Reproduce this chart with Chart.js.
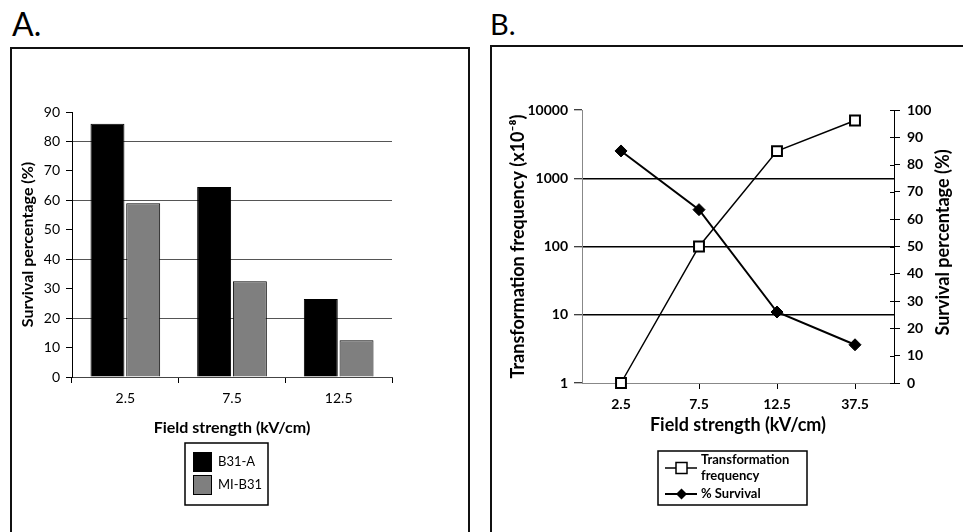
<!DOCTYPE html>
<html><head><meta charset="utf-8">
<script src="https://cdn.jsdelivr.net/npm/chart.js@4"></script>
<style>
html,body{margin:0;padding:0;background:#fff;}
body{width:963px;height:532px;overflow:hidden;position:relative;font-family:Lato,sans-serif;}
.lbl{position:absolute;font-family:Lato,sans-serif;line-height:1;color:#000;}
#frameA{position:absolute;left:10px;top:47px;width:460px;height:520px;border:2px solid #111;box-sizing:border-box;}
#frameB{position:absolute;left:490px;top:45px;width:520px;height:520px;border:2px solid #111;box-sizing:border-box;}
canvas{position:absolute;}
#cA{left:11px;top:48px;}
#cB{left:491px;top:46px;}
</style></head>
<body>
<div class="lbl" style="left:12px;top:8px;font-size:32px;">A.</div>
<div class="lbl" style="left:490px;top:9px;font-size:29px;">B.</div>
<div id="frameA"></div>
<div id="frameB"></div>
<canvas id="cA" width="458" height="484"></canvas>
<canvas id="cB" width="472" height="486"></canvas>
<script>
// ---------- Data: panel A ----------
const categoriesA = ['2.5', '7.5', '12.5'];
const seriesNamesA = ['B31-A', 'MI-B31'];
const b31A = [86, 64.5, 26.5];
const miB31 = [59, 32.5, 12.5];

// ---------- Data: panel B ----------
const categoriesB = ['2.5', '7.5', '12.5', '37.5'];
const seriesNamesB = ['Transformation frequency', '% Survival'];
const transFreq = [1, 100, 2500, 7000];
const survival = [85, 63.5, 26, 14];
const logTicks = [1, 10, 100, 1000, 10000];
const rightTitleB = 'Survival percentage (%)';

const FONT = 'Lato';

const legendPluginA = {
  id: 'legendA',
  afterDraw(chart) {
    const ctx = chart.ctx, ca = chart.chartArea;
    const x0 = ca.left + 113, y0 = ca.bottom + 66, w = 83, h = 62;
    ctx.save();
    ctx.lineWidth = 1.5; ctx.strokeStyle = '#000';
    ctx.strokeRect(x0, y0, w, h);
    ctx.font = '13px ' + FONT; ctx.textBaseline = 'middle'; ctx.fillStyle = '#000';
    chart.data.datasets.forEach((ds, i) => {
      const sy = y0 + 9 + i * 23;
      ctx.fillStyle = ds.backgroundColor;
      ctx.fillRect(x0 + 8, sy, 19, 20);
      ctx.lineWidth = 1; ctx.strokeStyle = '#000';
      ctx.strokeRect(x0 + 8.5, sy + 0.5, 18, 19);
      ctx.fillStyle = '#000';
      ctx.fillText(ds.label, x0 + 33, sy + 10);
    });
    ctx.restore();
  }
};

const legendPluginB = {
  id: 'legendB',
  afterDraw(chart) {
    const ctx = chart.ctx, ca = chart.chartArea;
    const x0 = ca.left + 76, y0 = ca.bottom + 68, w = 149, h = 54;
    ctx.save();
    ctx.lineWidth = 1.5; ctx.strokeStyle = '#000';
    ctx.strokeRect(x0, y0, w, h);
    ctx.font = 'bold 13px ' + FONT; ctx.textBaseline = 'middle';
    const ds0 = chart.data.datasets[0], ds1 = chart.data.datasets[1];
    let ly = y0 + 17;
    ctx.beginPath(); ctx.moveTo(x0 + 7, ly); ctx.lineTo(x0 + 39, ly); ctx.lineWidth = 1.5; ctx.stroke();
    ctx.fillStyle = '#fff'; ctx.fillRect(x0 + 18, ly - 5.5, 11, 11);
    ctx.lineWidth = 1.5; ctx.strokeRect(x0 + 18, ly - 5.5, 11, 11);
    ctx.fillStyle = '#000';
    const words = ds0.label.split(' ');
    ctx.fillText(words[0], x0 + 43, y0 + 9);
    ctx.fillText(words.slice(1).join(' '), x0 + 43, y0 + 25);
    ly = y0 + 43;
    ctx.beginPath(); ctx.moveTo(x0 + 7, ly); ctx.lineTo(x0 + 39, ly); ctx.lineWidth = 2; ctx.stroke();
    ctx.beginPath(); ctx.moveTo(x0 + 23.5, ly - 5.5); ctx.lineTo(x0 + 29, ly); ctx.lineTo(x0 + 23.5, ly + 5.5); ctx.lineTo(x0 + 18, ly); ctx.closePath(); ctx.fill();
    ctx.fillText(ds1.label, x0 + 43, ly);

    // right axis: title reading bottom-to-top, and inward tick marks
    const s = chart.scales.y2;
    ctx.save();
    ctx.font = 'bold 18px ' + FONT; ctx.textAlign = 'center'; ctx.textBaseline = 'middle';
    ctx.translate(s.right - 14, (s.top + s.bottom) / 2 - 4);
    ctx.rotate(-Math.PI / 2);
    ctx.fillText(rightTitleB, 0, 0);
    ctx.restore();
    ctx.lineWidth = 1; ctx.strokeStyle = '#000';
    s.ticks.forEach(t => {
      const y = Math.round(s.getPixelForValue(t.value)) + 0.5;
      ctx.beginPath(); ctx.moveTo(s.left - 4, y); ctx.lineTo(s.left, y); ctx.stroke();
    });
    ctx.restore();
  }
};

new Chart(document.getElementById('cA'), {
  type: 'bar',
  data: {
    labels: categoriesA,
    datasets: [
      {label: seriesNamesA[0], data: b31A, backgroundColor: '#000', borderColor: '#000', borderWidth: 1},
      {label: seriesNamesA[1], data: miB31, backgroundColor: '#7f7f7f', borderColor: '#000', borderWidth: 1}
    ]
  },
  options: {
    responsive: false, animation: false,
    layout: {padding: {left: 2, top: 64, right: 77, bottom: 95}},
    datasets: {bar: {categoryPercentage: 0.67, barPercentage: 0.95}},
    plugins: {legend: {display: false}, tooltip: {enabled: false}},
    scales: {
      x: {
        ticks: {color: '#000', font: {family: FONT, size: 14}, padding: 7},
        grid: {drawOnChartArea: false, tickLength: 6, color: '#000', offset: true},
        border: {color: '#444', width: 1},
        title: {display: true, text: 'Field strength (kV/cm)', color: '#000', font: {family: FONT, size: 16, weight: 'bold'}, padding: {top: 0, bottom: 0}},
        afterFit: s => { s.height = 60; }
      },
      y: {
        min: 0, max: 90,
        ticks: {stepSize: 10, color: '#000', font: {family: FONT, size: 14}, padding: 6},
        grid: {
          color: c => (c.tick && c.tick.value % 20 === 0 && c.tick.value > 0 && c.tick.value < 90) ? '#555' : 'rgba(0,0,0,0)',
          tickColor: '#000', tickLength: 6, lineWidth: 1
        },
        border: {color: '#000', width: 1},
        title: {display: true, text: 'Survival percentage (%)', color: '#000', font: {family: FONT, size: 16, weight: 'bold'}, padding: {top: 5, bottom: 0}},
        afterFit: s => { s.width = 59; }
      }
    }
  },
  plugins: [legendPluginA]
});

new Chart(document.getElementById('cB'), {
  type: 'line',
  data: {
    labels: categoriesB,
    datasets: [
      {label: seriesNamesB[0], data: transFreq, yAxisID: 'y', borderColor: '#000', borderWidth: 1.5,
       pointStyle: 'rect', pointRadius: 7, pointBackgroundColor: '#fff', pointBorderColor: '#000', pointBorderWidth: 2,
       tension: 0, clip: false},
      {label: seriesNamesB[1], data: survival, yAxisID: 'y2', borderColor: '#000', borderWidth: 2,
       pointStyle: 'rectRot', pointRadius: 6, pointBackgroundColor: '#000', pointBorderColor: '#000', pointBorderWidth: 1,
       tension: 0, clip: false}
    ]
  },
  options: {
    responsive: false, animation: false,
    layout: {padding: {left: 13, top: 64, right: 6, bottom: 96}},
    plugins: {legend: {display: false}, tooltip: {enabled: false}},
    scales: {
      x: {
        offset: true,
        ticks: {color: '#000', font: {family: FONT, size: 14, weight: 'bold'}, padding: 7},
        grid: {drawOnChartArea: false, offset: false, tickLength: 6, color: '#000'},
        border: {color: '#888', width: 1},
        title: {display: true, text: 'Field strength (kV/cm)', color: '#000', font: {family: FONT, size: 18, weight: 'bold'}, padding: {top: 0, bottom: 0}},
        afterFit: s => { s.height = 53; }
      },
      y: {
        type: 'logarithmic', position: 'left', min: 1, max: 10000,
        afterBuildTicks: s => { s.ticks = logTicks.map(v => ({value: v})); },
        ticks: {callback: v => String(v), autoSkip: false, color: '#000', font: {family: FONT, size: 14, weight: 'bold'}, padding: 6},
        grid: {
          color: c => (c.tick && c.tick.value > 1 && c.tick.value < 10000) ? '#000' : 'rgba(0,0,0,0)',
          lineWidth: 1.5, tickColor: '#000', tickWidth: 1, tickLength: 8
        },
        border: {color: '#888', width: 1},
        title: {display: true, text: 'Transformation frequency (x10⁻⁸)', color: '#000', font: {family: FONT, size: 18, weight: 'bold'}, padding: {top: 3, bottom: 0}},
        afterFit: s => { s.width = 78; }
      },
      y2: {
        position: 'right', min: 0, max: 100,
        ticks: {stepSize: 10, color: '#000', font: {family: FONT, size: 14, weight: 'bold'}, padding: 7},
        grid: {drawOnChartArea: false, tickLength: 6, color: '#000'},
        border: {color: '#000', width: 1},
        title: {display: false, text: rightTitleB},
        afterFit: s => { s.width = 63; }
      }
    }
  },
  plugins: [legendPluginB]
});
</script>
</body></html>
